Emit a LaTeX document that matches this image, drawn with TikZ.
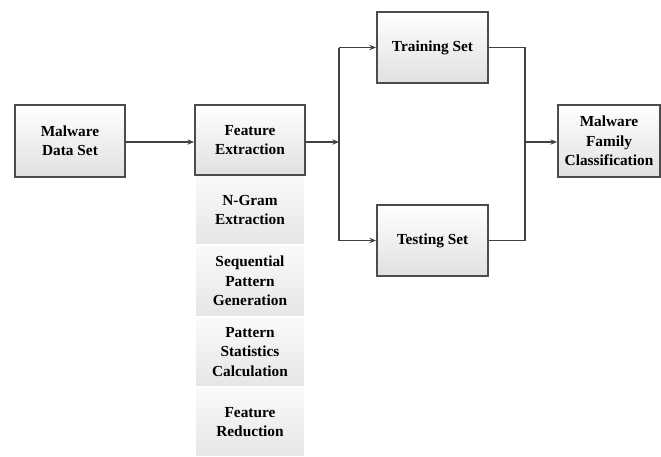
\documentclass[tikz,border=0pt]{standalone}
\usepackage{fontspec}
\setmainfont{Liberation Serif}
\usetikzlibrary{arrows.meta}
\begin{document}
\begin{tikzpicture}[x=0.75pt,y=-0.75pt,
  box/.style={draw=black!70,line width=1.4pt,top color=white,bottom color=black!12,
    inner sep=0pt,align=center,font=\fontsize{11.5}{14.5}\selectfont\bfseries},
  subbox/.style={draw=white,line width=1pt,top color=black!2,bottom color=black!10,
    inner sep=0pt,align=center,font=\fontsize{11.5}{14.5}\selectfont\bfseries},
  conn/.style={draw=black!75,line width=1.2pt},
  arr/.style={conn,-{Stealth[length=5pt,width=4pt]}}]
\useasboundingbox (0,0) rectangle (661,457);
% sub boxes
\node[subbox,minimum width=110*0.75pt,minimum height=70*0.75pt] (ng) at (250,210) {N-Gram\\Extraction};
\node[subbox,minimum width=110*0.75pt,minimum height=72*0.75pt] (sp) at (250,281) {Sequential\\Pattern\\Generation};
\node[subbox,minimum width=110*0.75pt,minimum height=70*0.75pt] (ps) at (250,352) {Pattern\\Statistics\\Calculation};
\node[subbox,minimum width=110*0.75pt,minimum height=70*0.75pt] (fr) at (250,422) {Feature\\Reduction};
% main boxes
\node[box,minimum width=110*0.75pt,minimum height=72*0.75pt] (mds) at (70,141) {Malware\\Data Set};
\node[box,minimum width=110*0.75pt,minimum height=70*0.75pt] (fe) at (250,140) {Feature\\Extraction};
\node[box,minimum width=111*0.75pt,minimum height=71*0.75pt] (tr) at (432.5,47.5) {Training Set};
\node[box,minimum width=111*0.75pt,minimum height=71*0.75pt] (te) at (432.5,240.5) {Testing Set};
\node[box,minimum width=102*0.75pt,minimum height=72*0.75pt] (mfc) at (609,141) {Malware\\Family\\Classification};
% connectors
\coordinate (split) at (339,142);
\coordinate (join) at (525,142);
\draw[arr] (mds.east |- 0,142) -- (fe.west |- 0,142);
\draw[arr] (fe.east |- 0,142) -- (split);
\draw[conn] (split |- tr.west) -- (split |- te.west);
\draw[arr] (split |- tr.west) -- (tr.west);
\draw[arr] (split |- te.west) -- (te.west);
\draw[conn] (tr.east) -| (join) |- (te.east);
\draw[arr] (join) -- (mfc.west |- join);
\end{tikzpicture}
\end{document}
